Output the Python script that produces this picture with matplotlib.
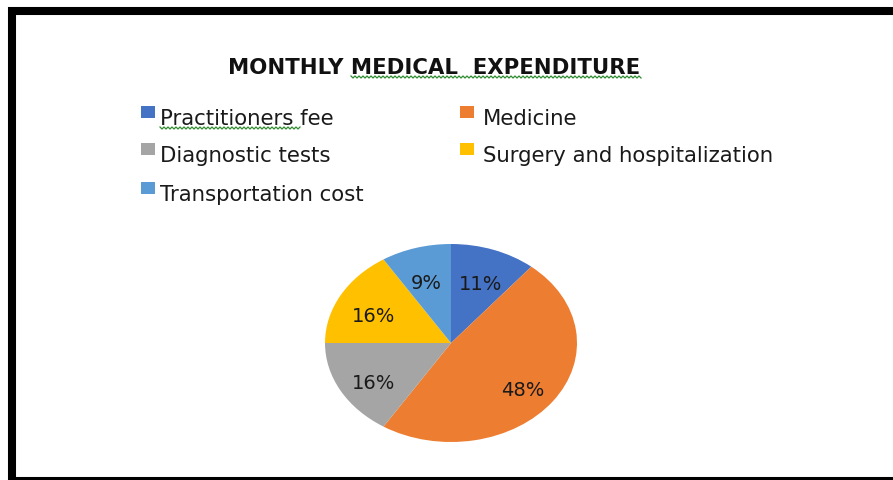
import numpy as np
import matplotlib.pyplot as plt
import matplotlib.patches as patches

categories = ['Practitioners fee', 'Medicine', 'Diagnostic tests',
              'Surgery and hospitalization', 'Transportation cost']
shares = [11, 48, 16, 16, 9]
colors = ['#4472C4', '#ED7D31', '#A5A5A5', '#FFC000', '#5B9BD5']

W, H = 893, 481
fig = plt.figure(figsize=(W / 100, H / 100), dpi=100)


def px(x, y):
    return x / W, 1 - y / H


def squiggle(x0, x1, y):
    # green spell-check underline
    xs = np.arange(x0, x1, 2.0)
    ys = y + np.where(np.arange(len(xs)) % 2 == 0, -1.0, 1.0)
    fig.add_artist(plt.Line2D(xs / W, 1 - ys / H, color='#2e8b2e', lw=0.9,
                              transform=fig.transFigure))


# thick black frame (right edge runs off the picture)
fig.patches.append(patches.Rectangle((12 / W, -1 / H), 1.2, 1 - 11 / H,
                                     transform=fig.transFigure, fill=False,
                                     edgecolor='black', linewidth=5.8))

fig.text(*px(434, 74), 'MONTHLY MEDICAL  EXPENDITURE', ha='center',
         va='baseline', fontsize=15.3, fontweight='bold', family='DejaVu Sans',
         color='#111111')
squiggle(351, 643, 78)

# pie, slightly wider than tall like the original
cx, cy, rw, rh = 451, 344, 126, 99
ax = fig.add_axes([(cx - rw) / W, (H - cy - rh) / H, 2 * rw / W, 2 * rh / H])
wedges, texts = ax.pie(shares, colors=colors, startangle=90, counterclock=False,
                       labels=[f'{v}%' for v in shares], labeldistance=0.70,
                       textprops={'fontsize': 14, 'color': '#1a1a1a',
                                  'family': 'DejaVu Sans'})
for t in texts:
    t.set_ha('center')
    t.set_va('center')
    lx, ly = t.get_position()
    t.set_position((lx, ly - 0.06))
ax.set_xlim(-1, 1)
ax.set_ylim(-1, 1)
ax.set_aspect('auto')
ax.axis('off')

# legend, two columns
marker_x = [141, 460]
text_x = [160, 483]
row_base = [125, 162, 201]
for i, (name, c) in enumerate(zip(categories, colors)):
    y = row_base[i // 2]
    fig.patches.append(patches.Rectangle(px(marker_x[i % 2], y - 6), 14 / W, 12 / H,
                                         transform=fig.transFigure,
                                         facecolor=c, edgecolor='none'))
    fig.text(*px(text_x[i % 2], y), name, ha='left', va='baseline',
             fontsize=15.3, color='#1a1a1a', family='DejaVu Sans')
squiggle(160, 302, 129)

fig.savefig('out.png', dpi=100)
